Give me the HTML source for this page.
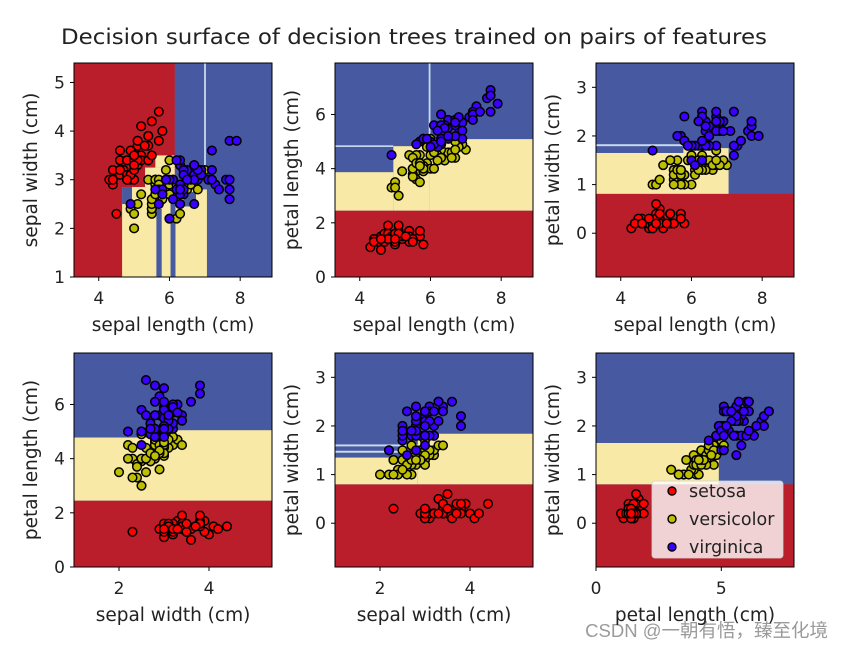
<!DOCTYPE html>
<html><head><meta charset="utf-8">
<style>
html,body{margin:0;padding:0;background:#fff;}
svg{display:block;font-family:"DejaVu Sans","Liberation Sans",sans-serif;}
</style></head>
<body>
<svg id="fig" width="843" height="649" viewBox="0 0 843 649">
<text x="414" y="44" text-anchor="middle" font-size="21" textLength="706" lengthAdjust="spacingAndGlyphs" fill="#222">Decision surface of decision trees trained on pairs of features</text>
<text x="828" y="637" text-anchor="end" font-size="18.5" fill="#9a9a9a" font-family="'Liberation Sans','Noto Sans CJK SC',sans-serif">CSDN @一朝有悟，臻至化境</text>
</svg>
<script>
const sepalLength=[5.1,4.9,4.7,4.6,5.0,5.4,4.6,5.0,4.4,4.9,5.4,4.8,4.8,4.3,5.8,5.7,5.4,5.1,5.7,5.1,5.4,5.1,4.6,5.1,4.8,5.0,5.0,5.2,5.2,4.7,4.8,5.4,5.2,5.5,4.9,5.0,5.5,4.9,4.4,5.1,5.0,4.5,4.4,5.0,5.1,4.8,5.1,4.6,5.3,5.0,
7.0,6.4,6.9,5.5,6.5,5.7,6.3,4.9,6.6,5.2,5.0,5.9,6.0,6.1,5.6,6.7,5.6,5.8,6.2,5.6,5.9,6.1,6.3,6.1,6.4,6.6,6.8,6.7,6.0,5.7,5.5,5.5,5.8,6.0,5.4,6.0,6.7,6.3,5.6,5.5,5.5,6.1,5.8,5.0,5.6,5.7,5.7,6.2,5.1,5.7,
6.3,5.8,7.1,6.3,6.5,7.6,4.9,7.3,6.7,7.2,6.5,6.4,6.8,5.7,5.8,6.4,6.5,7.7,7.7,6.0,6.9,5.6,7.7,6.3,6.7,7.2,6.2,6.1,6.4,7.2,7.4,7.9,6.4,6.3,6.1,7.7,6.3,6.4,6.0,6.9,6.7,6.9,5.8,6.8,6.7,6.7,6.3,6.5,6.2,5.9];
const sepalWidth=[3.5,3.0,3.2,3.1,3.6,3.9,3.4,3.4,2.9,3.1,3.7,3.4,3.0,3.0,4.0,4.4,3.9,3.5,3.8,3.8,3.4,3.7,3.6,3.3,3.4,3.0,3.4,3.5,3.4,3.2,3.1,3.4,4.1,4.2,3.1,3.2,3.5,3.6,3.0,3.4,3.5,2.3,3.2,3.5,3.8,3.0,3.8,3.2,3.7,3.3,
3.2,3.2,3.1,2.3,2.8,2.8,3.3,2.4,2.9,2.7,2.0,3.0,2.2,2.9,2.9,3.1,3.0,2.7,2.2,2.5,3.2,2.8,2.5,2.8,2.9,3.0,2.8,3.0,2.9,2.6,2.4,2.4,2.7,2.7,3.0,3.4,3.1,2.3,3.0,2.5,2.6,3.0,2.6,2.3,2.7,3.0,2.9,2.9,2.5,2.8,
3.3,2.7,3.0,2.9,3.0,3.0,2.5,2.9,2.5,3.6,3.2,2.7,3.0,2.5,2.8,3.2,3.0,3.8,2.6,2.2,3.2,2.8,2.8,2.7,3.3,3.2,2.8,3.0,2.8,3.0,2.8,3.8,2.8,2.8,2.6,3.0,3.4,3.1,3.0,3.1,3.1,3.1,2.7,3.2,3.3,3.0,2.5,3.0,3.4,3.0];
const petalLength=[1.4,1.4,1.3,1.5,1.4,1.7,1.4,1.5,1.4,1.5,1.5,1.6,1.4,1.1,1.2,1.5,1.3,1.4,1.7,1.5,1.7,1.5,1.0,1.7,1.9,1.6,1.6,1.5,1.4,1.6,1.6,1.5,1.5,1.4,1.5,1.2,1.3,1.4,1.3,1.5,1.3,1.3,1.3,1.6,1.9,1.4,1.6,1.4,1.5,1.4,
4.7,4.5,4.9,4.0,4.6,4.5,4.7,3.3,4.6,3.9,3.5,4.2,4.0,4.7,3.6,4.4,4.5,4.1,4.5,3.9,4.8,4.0,4.9,4.7,4.3,4.4,4.8,5.0,4.5,3.5,3.8,3.7,3.9,5.1,4.5,4.5,4.7,4.4,4.1,4.0,4.4,4.6,4.0,3.3,4.2,4.2,4.2,4.3,3.0,4.1,
6.0,5.1,5.9,5.6,5.8,6.6,4.5,6.3,5.8,6.1,5.1,5.3,5.5,5.0,5.1,5.3,5.5,6.7,6.9,5.0,5.7,4.9,6.7,4.9,5.7,6.0,4.8,4.9,5.6,5.8,6.1,6.4,5.6,5.1,5.6,6.1,5.6,5.5,4.8,5.4,5.6,5.1,5.1,5.9,5.7,5.2,5.0,5.2,5.4,5.1];
const petalWidth=[0.2,0.2,0.2,0.2,0.2,0.4,0.3,0.2,0.2,0.1,0.2,0.2,0.1,0.1,0.2,0.4,0.4,0.3,0.3,0.3,0.2,0.4,0.2,0.5,0.2,0.2,0.4,0.2,0.2,0.2,0.2,0.4,0.1,0.2,0.2,0.2,0.2,0.1,0.2,0.2,0.3,0.3,0.2,0.6,0.4,0.3,0.2,0.2,0.2,0.2,
1.4,1.5,1.5,1.3,1.5,1.3,1.6,1.0,1.3,1.4,1.0,1.5,1.0,1.4,1.3,1.4,1.5,1.0,1.5,1.1,1.8,1.3,1.5,1.2,1.3,1.4,1.4,1.7,1.5,1.0,1.1,1.0,1.2,1.6,1.5,1.6,1.5,1.3,1.3,1.3,1.2,1.4,1.2,1.0,1.3,1.2,1.3,1.3,1.1,1.3,
2.5,1.9,2.1,1.8,2.2,2.1,1.7,1.8,1.8,2.5,2.0,1.9,2.1,2.0,2.4,2.3,1.8,2.2,2.3,1.5,2.3,2.0,2.0,1.8,2.1,1.8,1.8,1.8,2.1,1.6,1.9,2.0,2.2,1.5,1.4,2.3,2.4,1.8,1.8,2.1,2.4,2.3,1.9,2.3,2.5,2.3,1.9,2.0,2.3,1.8];
const species=[0,0,0,0,0,0,0,0,0,0,0,0,0,0,0,0,0,0,0,0,0,0,0,0,0,0,0,0,0,0,0,0,0,0,0,0,0,0,0,0,0,0,0,0,0,0,0,0,0,0,
1,1,1,1,1,1,1,1,1,1,1,1,1,1,1,1,1,1,1,1,1,1,1,1,1,1,1,1,1,1,1,1,1,1,1,1,1,1,1,1,1,1,1,1,1,1,1,1,1,1,
2,2,2,2,2,2,2,2,2,2,2,2,2,2,2,2,2,2,2,2,2,2,2,2,2,2,2,2,2,2,2,2,2,2,2,2,2,2,2,2,2,2,2,2,2,2,2,2,2,2];
const classNames=["setosa","versicolor","virginica"];
const featureNames=["sepal length (cm)","sepal width (cm)","petal length (cm)","petal width (cm)"];
const featureMin=[3.3,1.0,0.0,-0.9];
const featureMax=[8.9,5.4,7.9,3.5];
const featureTicksX=[[4,6,8],[2,4],[0,5],[0,1,2,3]];
const featureTicksY=[[4,6,8],[1,2,3,4,5],[0,2,4,6],[0,1,2,3]];
const pairs=[[0,1],[0,2],[0,3],[1,2],[1,3],[2,3]];
// decision regions per pair: [x0,x1,y0,y1,class] (class 3 = boundary line)
const regions1=[[3.3,8.9,1.0,5.4,2],[3.3,6.15,1.0,5.4,0],[4.66,7.06,1.0,2.85,1],[5.31,6.15,2.85,3.25,1],[5.6,6.15,3.25,3.5,1],[4.66,4.94,2.5,2.85,2],[5.63,5.78,1.0,2.4,2],[6.03,6.17,1.0,2.6,2],[6.17,7.06,2.8,3.0,2],[6.4,6.75,2.45,2.75,2],[6.98,7.03,3.3,5.4,3]];
const regions2=[[3.3,8.9,0,7.9,2],[3.3,8.9,0,2.45,0],[3.3,4.95,2.45,3.87,1],[4.95,5.97,2.45,4.83,1],[5.97,8.9,2.45,5.09,1],[3.3,4.95,4.8,4.86,3],[5.95,6.0,5.09,7.9,3]];
const regions3=[[3.3,8.9,-0.9,3.5,2],[3.3,8.9,-0.9,0.81,0],[3.3,7.05,0.81,1.65,1],[5.77,7.05,1.65,1.75,1],[3.3,5.77,1.79,1.83,3]];
const regions4=[[1.0,5.4,0,7.9,2],[1.0,5.4,0,2.45,0],[1.0,2.9,2.45,4.78,1],[2.9,5.4,2.45,5.05,1]];
const regions5=[[1.0,5.4,-0.9,3.5,2],[1.0,5.4,-0.9,0.8,0],[1.0,2.84,0.8,1.35,1],[2.84,5.4,0.8,1.84,1],[1.0,2.84,1.58,1.62,3],[1.0,2.84,1.45,1.49,3]];
const regions6=[[0,7.9,-0.9,3.5,2],[0,7.9,-0.9,0.8,0],[0,4.9,0.8,1.65,1]];
const allRegions=[regions1,regions2,regions3,regions4,regions5,regions6];

const NS="http://www.w3.org/2000/svg";
const svg=document.getElementById('fig');
const regionColors=["#bb1e2b","#f8e9a6","#4659a1","#c9dcec"];
const pointColors=["#ff0000","#bfbf00","#3a00ff"];
const colX=[74,335,596], rowY=[63,353], W=198, H=214;
function mk(tag,attrs,parent){const e=document.createElementNS(NS,tag);for(const k in attrs)e.setAttribute(k,attrs[k]);(parent||svg).appendChild(e);return e;}

pairs.forEach((pr,pi)=>{
  const ax0=colX[pi%3], ay0=rowY[Math.floor(pi/3)];
  const fx=pr[0], fy=pr[1];
  const xs=v=>ax0+(v-featureMin[fx])/(featureMax[fx]-featureMin[fx])*W;
  const ys=v=>ay0+H-(v-featureMin[fy])/(featureMax[fy]-featureMin[fy])*H;
  const g=mk('g',{});
  
  
  allRegions[pi].forEach((r,ri)=>{
    const x1=xs(r[0]),x2=xs(r[1]),y1=ys(r[3]),y2=ys(r[2]);
    const rc=mk('rect',{x:x1,y:y1,width:Math.max(0,x2-x1),height:Math.max(0,y2-y1),fill:regionColors[r[4]]},g);
    
    
  });
  for(let i=0;i<species.length;i++){
    const vals=[sepalLength[i],sepalWidth[i],petalLength[i],petalWidth[i]];
    const c=mk('circle',{cx:xs(vals[fx]),cy:ys(vals[fy]),r:4.3,fill:pointColors[species[i]],stroke:"#000","stroke-width":1.5},g);
    
    
  }
  const fr=mk('rect',{x:ax0,y:ay0,width:W,height:H,fill:"none",stroke:"#000","stroke-width":1},g);
  
  
  featureTicksX[fx].forEach(t=>{
    const x=xs(t);
    mk('line',{x1:x,x2:x,y1:ay0+H,y2:ay0+H+4,stroke:"#000","stroke-width":1},g);
    const tl=mk('text',{x:x,y:ay0+H+27,"text-anchor":"middle","font-size":17,fill:"#222"},g);
    tl.textContent=t;
    
    
  });
  featureTicksY[fy].forEach(t=>{
    const y=ys(t);
    mk('line',{x1:ax0-4,x2:ax0,y1:y,y2:y,stroke:"#000","stroke-width":1},g);
    const tl=mk('text',{x:ax0-9,y:y+6,"text-anchor":"end","font-size":17,fill:"#222"},g);
    tl.textContent=t;
    
    
  });
  const xl=mk('text',{x:ax0+W/2,y:ay0+H+54,"text-anchor":"middle","font-size":18.5,fill:"#222"},g);
  xl.textContent=featureNames[fx];
  
  
  const ylx=ax0-37;
  const yl=mk('text',{x:ylx,y:ay0+H/2,"text-anchor":"middle","font-size":18.5,fill:"#222",transform:`rotate(-90 ${ylx} ${ay0+H/2})`},g);
  yl.textContent=featureNames[fy];
  
  
});

// legend
const lg=mk('g',{});


const lb=mk('rect',{x:652,y:481,width:131,height:77,rx:3,fill:"rgba(255,255,255,0.8)",stroke:"rgba(210,210,210,0.8)","stroke-width":1},lg);


classNames.forEach((n,i)=>{
  const y=491+i*28;
  const m=mk('circle',{cx:672,cy:y,r:4,fill:pointColors[i],stroke:"#000","stroke-width":1.4},lg);
  
  
  const t=mk('text',{x:689,y:y+6,"font-size":17.5,fill:"#222"},lg);
  t.textContent=n;
  
  
});
</script>
</body></html>
